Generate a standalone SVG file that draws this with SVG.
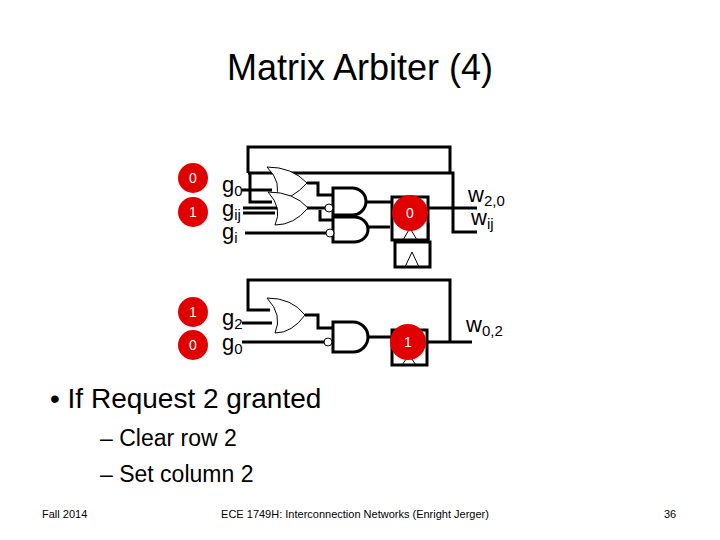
<svg xmlns="http://www.w3.org/2000/svg" width="720" height="540" viewBox="0 0 720 540">
<style>
text{font-family:"Liberation Sans",Arial,sans-serif;fill:#000}
.w{fill:none;stroke:#000;stroke-width:3}
.or{fill:#fff;stroke:#000;stroke-width:1}
.and{fill:#fff;stroke:#000;stroke-width:3}
.bub{fill:#fff;stroke:#000;stroke-width:1}
.ff{fill:#fff;stroke:#000;stroke-width:3}
.tri{fill:none;stroke:#000;stroke-width:1}
.red{fill:#e00000}
.rt{fill:#fff;font-size:14px;text-anchor:middle}
.g{font-size:22px}
</style>
<rect width="720" height="540" fill="#fff"/>
<text x="360" y="80" font-size="36" text-anchor="middle">Matrix Arbiter (4)</text>
<g id="wires">
<path class="w" d="M248,173 V147 H450 V173 M248,173 H453 V232 H477 M428,208 H477 M250,173 V202 H272 M242,190 H272 M243,208 H325 M243,213 H275 M245,233 H327 M307,183 H318 V195 H333 M320,210 V220 H333 M367,202 H393 M368,227 H390 M428,223 V240"/>
<path class="w" d="M270,310 H248 V280 H450 V342 M242,323 H272 M305,315 H318 V328 H333 M242,342 H325 M368,337 H392 M427,342 H472"/>
</g>
<g id="or-gates">
<path class="or" d="M267,167 Q292,167 307,183 Q292,200 275,200 Q283,183 267,167 Z"/>
<path class="or" d="M268,192 Q294,192 308,208 Q294,225 275,225 Q283,208 268,192 Z"/>
<path class="or" d="M267,298 Q292,298 305,315 Q292,333 275,333 Q283,315 267,298 Z"/>
</g>
<g id="and-gates">
<path class="and" d="M333,188 H352 A14,13.5 0 0 1 352,215 H333 Z"/>
<circle class="bub" cx="329" cy="208" r="4"/>
<path class="and" d="M333,217 H354 A14,12.5 0 0 1 354,242 H333 Z"/>
<circle class="bub" cx="330" cy="233" r="4"/>
<path class="and" d="M333,322 H353 A15,15 0 0 1 353,352 H333 Z"/>
<circle class="bub" cx="328" cy="342" r="4"/>
</g>
<g id="flipflops">
<rect class="ff" x="395" y="242" width="35" height="25"/>
<path class="tri" d="M405,267 L412,252 L419,267"/>
<rect class="ff" x="392" y="197" width="36" height="43"/>
<path class="tri" d="M403,240 L410,228 L417,240"/>
<rect class="ff" x="392" y="330" width="35" height="35"/>
<path class="tri" d="M402,365 L409,355 L416,365"/>
</g>
<g id="tokens">
<circle class="red" cx="193" cy="178" r="15"/><text class="rt" x="193" y="183">0</text>
<circle class="red" cx="193" cy="212" r="15"/><text class="rt" x="193" y="217">1</text>
<circle class="red" cx="193" cy="312" r="15"/><text class="rt" x="193" y="317">1</text>
<circle class="red" cx="193" cy="345" r="15"/><text class="rt" x="193" y="350">0</text>
<circle class="red" cx="410" cy="213" r="18"/><text class="rt" x="410" y="218">0</text>
<circle class="red" cx="408" cy="342" r="18"/><text class="rt" x="408" y="347">1</text>
</g>
<g id="labels">
<text class="g" x="222" y="192">g<tspan font-size="15" dy="4">0</tspan></text>
<text class="g" x="222" y="216">g<tspan font-size="15" dy="4">ij</tspan></text>
<text class="g" x="222" y="239">g<tspan font-size="15" dy="4">i</tspan></text>
<text class="g" x="222" y="325">g<tspan font-size="15" dy="4">2</tspan></text>
<text class="g" x="222" y="350">g<tspan font-size="15" dy="4">0</tspan></text>
<text font-size="22" x="468" y="202">w<tspan font-size="15" dy="4">2,0</tspan></text>
<text font-size="22" x="471" y="225">w<tspan font-size="15" dy="4">ij</tspan></text>
<text font-size="22" x="466" y="332">w<tspan font-size="15" dy="4">0,2</tspan></text>
</g>
<text x="50" y="408" font-size="28">• If Request 2 granted</text>
<text x="100" y="446" font-size="23">– Clear row 2</text>
<text x="100" y="482" font-size="23">– Set column 2</text>
<text x="42" y="518" font-size="11">Fall 2014</text>
<text x="355" y="518" font-size="11" text-anchor="middle">ECE 1749H: Interconnection Networks (Enright Jerger)</text>
<text x="670" y="518" font-size="11" text-anchor="middle">36</text>
</svg>
